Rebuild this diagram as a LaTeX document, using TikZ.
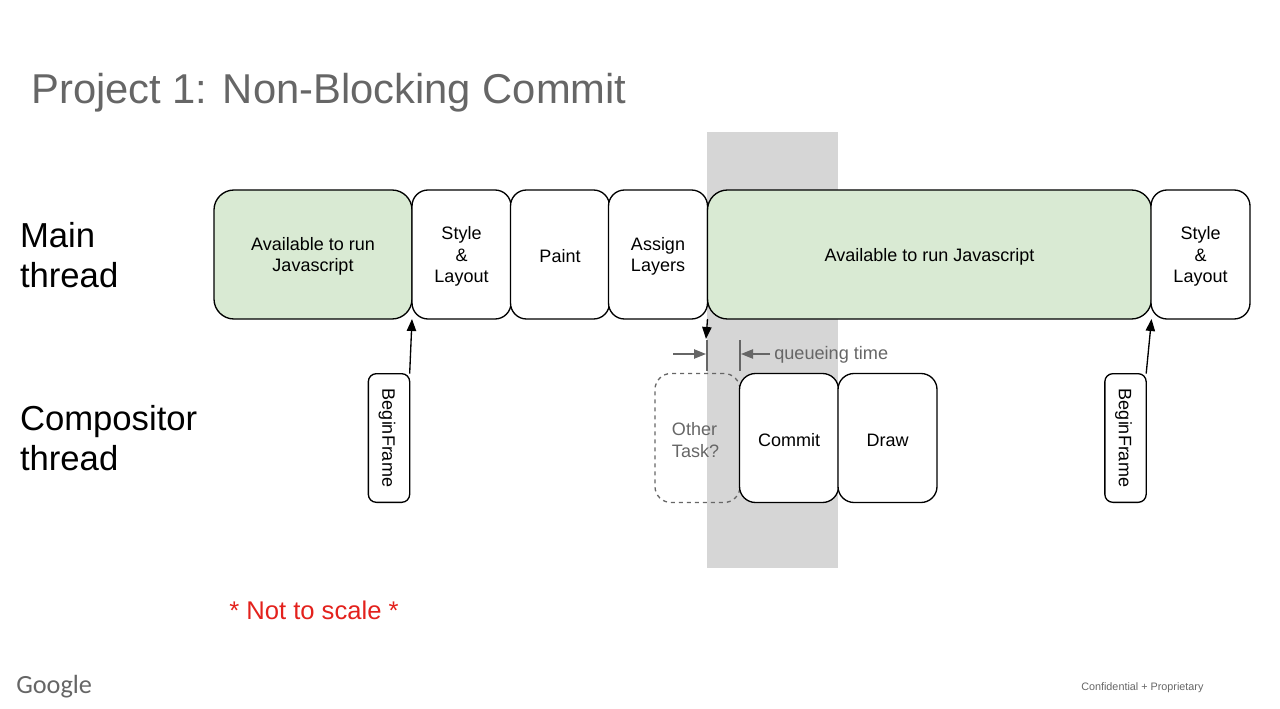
\documentclass[tikz,border=0pt]{standalone}
\usepackage{fontspec}
\setmainfont{Liberation Sans}
\newfontfamily\logofont{Carlito}
\usepackage{tikz}
\usetikzlibrary{arrows.meta}
\definecolor{titlegray}{HTML}{666666}
\definecolor{bandgray}{HTML}{D6D6D6}
\definecolor{availgreen}{HTML}{D9EAD3}
\definecolor{notered}{HTML}{E3211C}
\newcommand{\toppad}{\rule{0pt}{12.6pt}}
\tikzset{
  block/.style={draw=black,line width=1pt,rounded corners=12pt,fill=white,inner sep=0pt,outer sep=0pt,
    minimum height=96.75pt,minimum width=74.25pt,align=center,font=\fontsize{13.5}{16.4}\selectfont},
  avail/.style={block,fill=availgreen,rounded corners=15pt},
  framebox/.style={block,rotate=-90,minimum width=96.5pt,minimum height=31pt,rounded corners=6pt},
  hint/.style={draw=titlegray,line width=1pt},
  tip/.style={-{Triangle[length=9pt,width=7pt]}},
  headline/.style={inner sep=0pt,outer sep=0pt,align=left,font=\fontsize{26}{30.5}\selectfont},
}
\begin{document}
\begin{tikzpicture}[x=0.75pt,y=0.75pt,yscale=-1,xscale=1]
    \useasboundingbox (0,0) rectangle (1280,709);
    
    % Band
    \node (band) [fill=bandgray,inner sep=0pt,outer sep=0pt,minimum width=98.25pt,minimum height=327pt] at (772.5,350) {};
    
    % Main thread row
    \node (availone) [avail,minimum width=148.5pt] at (313,254.5) {\toppad Available to run\\Javascript};
    \node (styleone) [block] at (461.5,254.5) {\toppad Style\\\&\\Layout};
    \node (paint) [block] at (560,254.5) {\toppad Paint};
    \node (assign) [block] at (658,254.5) {\toppad Assign\\Layers};
    \node (availtwo) [avail,minimum width=333pt] at (929.5,254.5) {\toppad Available to run Javascript};
    \node (styletwo) [block] at (1200.5,254.5) {\toppad Style\\\&\\Layout};
    
    % Compositor thread row
    \node (frameone) [framebox] at (389,438) {\toppad BeginFrame};
    \node (other) [block,dashed,draw=titlegray,fill=none,text=titlegray,minimum width=63.75pt,align=left] at (697.5,438) {\toppad Other\\Task?\hspace*{3pt}};
    \node (commit) [block] at (789,438) {\toppad Commit};
    \node (drawbox) [block] at (887.5,438) {\toppad Draw};
    \node (frametwo) [framebox] at (1125.5,438) {\toppad BeginFrame};
    
    % Free ends
    \coordinate (handoff) at (706,339);
    \coordinate (ticktopa) at (707,340);
    \coordinate (tickbota) at (707,371);
    \coordinate (ticktopb) at (740,340);
    \coordinate (tickbotb) at (740,371);
    \coordinate (leftstart) at (673,354);
    \coordinate (leftend) at (706,354);
    \coordinate (rightstart) at (770,354);
    \coordinate (rightend) at (741,354);
    
    % Arrows
    \draw [tip,line width=1pt] (frameone.north west) -- (availone.south east);
    \draw [tip,line width=1pt] (frametwo.north west) -- (availtwo.south east);
    \draw [tip,line width=1pt] (assign.south east) -- (handoff);
    \draw [hint] (ticktopa) -- (tickbota);
    \draw [hint] (ticktopb) -- (tickbotb);
    \draw [hint,tip] (leftstart) -- (leftend);
    \draw [hint,tip] (rightstart) -- (rightend);
    
    % Text Node
    \node (title) [anchor=west,inner sep=0pt,text=titlegray,font=\fontsize{31.3}{36}\selectfont] at (31,93) {Project 1: Non-Blocking Commit};
    % Text Node
    \node (mainlabel) [headline,anchor=west] at (20,255) {Main\\thread};
    % Text Node
    \node (complabel) [headline,anchor=west] at (20,438) {Compositor\\thread};
    % Text Node
    \node (queue) [anchor=west,inner sep=0pt,text=titlegray,font=\fontsize{13.6}{16}\selectfont] at (774,354.5) {queueing time};
    % Text Node
    \node (scale) [anchor=west,inner sep=0pt,text=notered,font=\fontsize{19.2}{22}\selectfont] at (229,610) {* Not to scale *};
    % Text Node
    \node (logo) [anchor=west,inner sep=0pt,text=titlegray,font=\logofont\fontsize{19.7}{22}\selectfont] at (16,687) {Google};
    % Text Node
    \node (conf) [anchor=west,inner sep=0pt,text=titlegray,font=\fontsize{8.1}{10}\selectfont] at (1081,688) {Confidential + Proprietary};
\end{tikzpicture}
\end{document}
